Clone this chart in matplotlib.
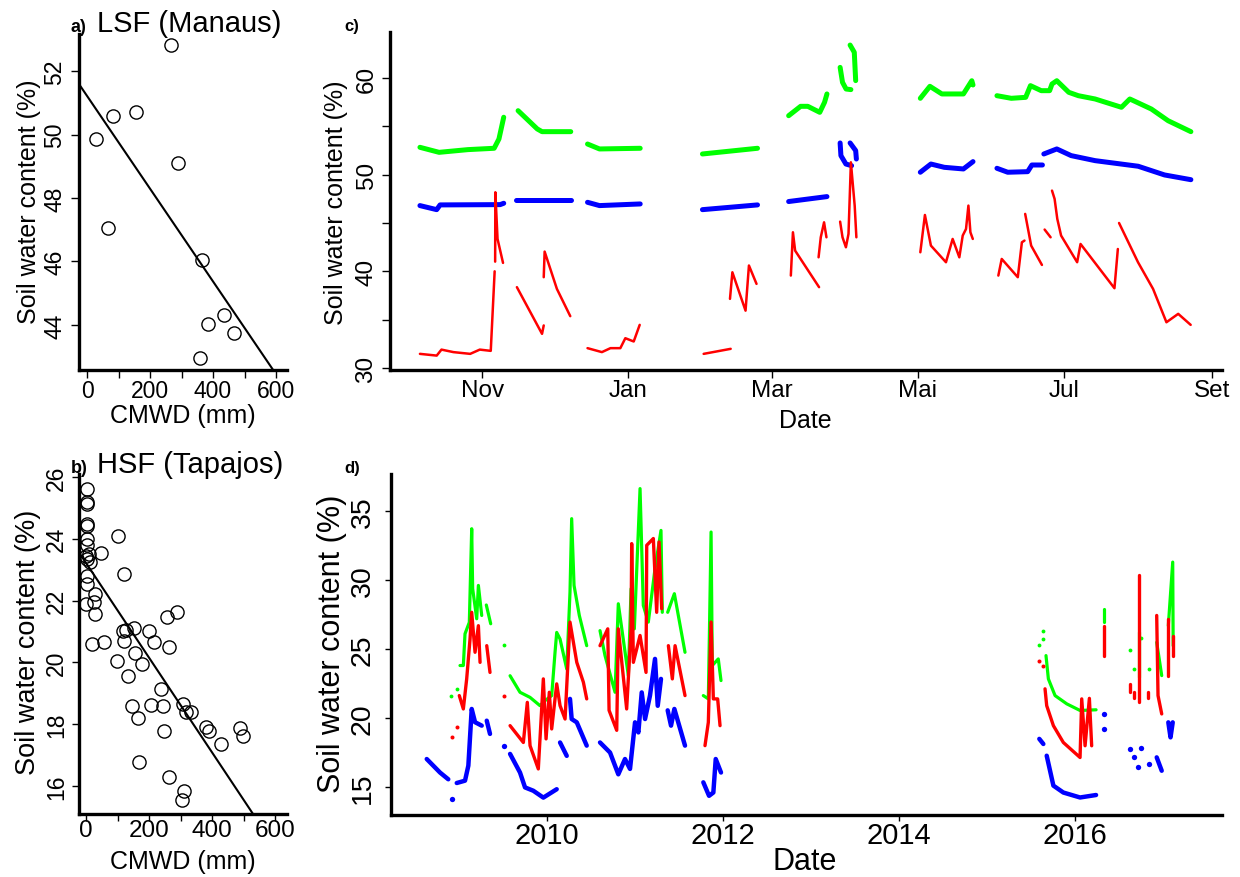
import numpy as np
import pandas as pd
import matplotlib
matplotlib.use("Agg")
import matplotlib.pyplot as plt

plt.rcParams['font.family'] = ['Liberation Sans', 'DejaVu Sans']

W, H = 1240, 878

# a) LSF (Manaus): CMWD (mm) vs soil water content (%)
cmwd_lsf = [267, 83, 156, 28, 290, 66, 366, 436, 383, 468, 358]
swc_lsf = [52.82, 50.58, 50.70, 49.85, 49.10, 47.07, 46.06, 44.30, 44.03, 43.76, 42.95]
fit_lsf = [51.22, -0.01462]  # intercept, slope

# b) HSF (Tapajos)
cmwd_hsf = [4, 4, 4, 4, 4, 4, 4, 0, 11, 4, 12, 4, 4, 0, 28, 26, 28, 18, 57, 46,
            100, 121, 97, 116, 120, 127, 153, 155, 177, 132, 147, 164, 168, 199,
            216, 258, 287, 263, 238, 205, 244, 248, 263, 308, 316, 332, 303, 311,
            379, 390, 428, 488, 499]
swc_hsf = [25.63, 25.20, 25.13, 24.48, 24.40, 24.00, 23.80, 23.45, 23.50, 23.35,
           23.24, 22.80, 22.54, 21.90, 22.20, 21.94, 21.57, 20.60, 20.65, 23.54,
           24.10, 22.86, 20.06, 21.00, 20.70, 21.06, 21.10, 20.30, 19.95, 19.57,
           18.60, 18.19, 16.79, 21.00, 20.67, 21.46, 21.62, 20.49, 19.14, 18.62,
           18.60, 17.79, 16.28, 18.65, 18.38, 18.38, 15.53, 15.85, 17.90, 17.79,
           17.36, 17.87, 17.60]
fit_hsf = [23.22, -0.01536]

# c) Manaus time series, one list per logging period
c_green = [
    [("2007-10-06", 52.83), ("2007-10-14", 52.31), ("2007-10-26", 52.59), ("2007-11-06", 52.73), ("2007-11-08", 53.69), ("2007-11-10", 55.94)],
    [("2007-11-16", 56.62), ("2007-11-24", 54.73), ("2007-11-26", 54.45), ("2007-12-08", 54.45)],
    [("2007-12-15", 53.17), ("2007-12-20", 52.66), ("2008-01-06", 52.73)],
    [("2008-02-01", 52.14), ("2008-02-24", 52.73)],
    [("2008-03-08", 56.10), ("2008-03-13", 57.07), ("2008-03-16", 57.07), ("2008-03-21", 56.45), ("2008-03-23", 57.49), ("2008-03-24", 58.35)],
    [("2008-03-29 12:00", 61.10), ("2008-03-30 12:00", 59.55), ("2008-04-01", 58.86), ("2008-04-03", 58.80)],
    [("2008-04-02 16:00", 63.41), ("2008-04-04 10:00", 62.66), ("2008-04-05", 59.73)],
    [("2008-05-02", 57.90), ("2008-05-06", 59.14), ("2008-05-11", 58.35), ("2008-05-20", 58.35), ("2008-05-23 12:00", 59.72), ("2008-05-24", 59.28)],
    [("2008-06-03", 58.17), ("2008-06-09", 57.90), ("2008-06-15", 58.00), ("2008-06-17", 59.21), ("2008-06-21 12:00", 58.69),
     ("2008-06-25", 58.69), ("2008-06-26", 59.38), ("2008-06-28", 59.72), ("2008-07-03", 58.52), ("2008-07-07", 58.17),
     ("2008-07-14", 57.83), ("2008-07-25", 56.97), ("2008-07-28 12:00", 57.83), ("2008-08-06 12:00", 56.79),
     ("2008-08-13 12:00", 55.58), ("2008-08-23", 54.45)],
]
c_blue = [
    [("2007-10-06", 46.80), ("2007-10-13", 46.38), ("2007-10-14 10:00", 46.87), ("2007-11-08 12:00", 46.90), ("2007-11-10", 47.04)],
    [("2007-11-15", 47.42), ("2007-12-08", 47.42)],
    [("2007-12-15", 47.14), ("2007-12-20", 46.80), ("2008-01-06", 46.97)],
    [("2008-02-01", 46.38), ("2008-02-24", 46.87)],
    [("2008-03-08", 47.22), ("2008-03-24", 47.73)],
    [("2008-03-29 12:00", 53.28), ("2008-03-29 20:00", 51.97), ("2008-03-31 22:00", 51.10), ("2008-04-03 07:00", 50.93)],
    [("2008-04-02 16:00", 53.28), ("2008-04-05", 52.49), ("2008-04-05 07:00", 51.62)],
    [("2008-05-02", 50.25), ("2008-05-06 10:00", 51.10), ("2008-05-12", 50.76), ("2008-05-20", 50.59), ("2008-05-24", 51.35)],
    [("2008-06-03", 50.66), ("2008-06-07 12:00", 50.25), ("2008-06-15 20:00", 50.31), ("2008-06-17 14:00", 51.00), ("2008-06-22", 51.00)],
    [("2008-06-22 14:00", 52.14), ("2008-06-28", 52.66), ("2008-07-04", 51.97), ("2008-07-14", 51.45), ("2008-08-01", 50.87),
     ("2008-08-12", 49.97), ("2008-08-23", 49.48)],
]
c_red = [
    [("2007-10-06", 31.46), ("2007-10-13", 31.28), ("2007-10-15", 31.90), ("2007-10-20", 31.64), ("2007-10-27", 31.46),
     ("2007-10-31", 31.90), ("2007-11-04 14:00", 31.77), ("2007-11-06 05:00", 40.00)],
    [("2007-11-06 10:00", 41.00), ("2007-11-06 12:00", 48.18), ("2007-11-07 10:00", 43.35), ("2007-11-09 17:00", 40.87)],
    [("2007-11-15 12:00", 38.36), ("2007-11-26", 33.53), ("2007-11-26 17:00", 34.40)],
    [("2007-11-26 17:00", 39.39), ("2007-11-27 02:00", 42.04), ("2007-12-02 05:00", 38.18), ("2007-12-07 19:00", 35.36)],
    [("2007-12-15", 32.05), ("2007-12-21", 31.64), ("2007-12-24 14:00", 32.05), ("2007-12-28 17:00", 32.05),
     ("2007-12-30 19:00", 33.08), ("2008-01-03 07:00", 32.74), ("2008-01-05 19:00", 34.46)],
    [("2008-02-01 12:00", 31.46), ("2008-02-12 19:00", 31.98)],
    [("2008-02-12 12:00", 37.15), ("2008-02-13 12:00", 39.90), ("2008-02-19", 35.93), ("2008-02-20 10:00", 40.60), ("2008-02-23 14:00", 38.70)],
    [("2008-03-08 22:00", 39.56), ("2008-03-09 19:00", 44.04), ("2008-03-10 17:00", 42.14), ("2008-03-20 17:00", 38.36)],
    [("2008-03-20 12:00", 41.45), ("2008-03-21 10:00", 43.52), ("2008-03-22 19:00", 45.07), ("2008-03-23 19:00", 43.52)],
    [("2008-03-29 12:00", 45.14), ("2008-03-30 12:00", 43.52), ("2008-03-31 22:00", 42.49), ("2008-04-02", 43.87),
     ("2008-04-03", 51.28), ("2008-04-04 14:00", 46.80), ("2008-04-05 07:00", 43.52)],
    [("2008-05-02", 41.97), ("2008-05-03 22:00", 45.83), ("2008-05-06 10:00", 42.66), ("2008-05-12 17:00", 40.94),
     ("2008-05-15 12:00", 43.35), ("2008-05-18 07:00", 41.45), ("2008-05-19 17:00", 43.70), ("2008-05-21 02:00", 44.38),
     ("2008-05-22 02:00", 46.80), ("2008-05-22 22:00", 44.04), ("2008-05-23 22:00", 43.35)],
    [("2008-06-03 14:00", 39.56), ("2008-06-05", 41.28), ("2008-06-11 17:00", 39.39), ("2008-06-13 10:00", 43.00), ("2008-06-14 12:00", 43.18)],
    [("2008-06-14 19:00", 45.94), ("2008-06-17 07:00", 42.66), ("2008-06-21 19:00", 40.66)],
    [("2008-06-22 22:00", 44.32), ("2008-06-25 10:00", 43.52)],
    [("2008-06-26", 48.35), ("2008-06-27 02:00", 47.49), ("2008-06-28 05:00", 45.42), ("2008-06-29 19:00", 43.70),
     ("2008-07-06 12:00", 40.94), ("2008-07-07 22:00", 42.83), ("2008-07-22 02:00", 38.25), ("2008-07-23 12:00", 42.31)],
    [("2008-07-24", 45.00), ("2008-07-31 22:00", 40.94), ("2008-08-07 05:00", 38.18), ("2008-08-12 19:00", 34.73),
     ("2008-08-17 17:00", 35.60), ("2008-08-22 22:00", 34.46)],
]
c_ticks = ["2007-11-01", "2008-01-01", "2008-03-01", "2008-05-01", "2008-07-01", "2008-09-01"]
c_ticklabels = ["Nov", "Jan", "Mar", "Mai", "Jul", "Set"]

# d) Tapajos time series (decimal years)
d_green = [
    [(2008.906, 21.63)], [(2008.974, 22.12)],
    [(2009.011, 23.81), (2009.049, 23.81), (2009.068, 26.11), (2009.117, 26.94), (2009.144, 33.73), (2009.155, 29.38),
     (2009.201, 27.20), (2009.220, 29.62), (2009.258, 27.44)],
    [(2009.310, 28.20), (2009.360, 26.84)],
    [(2009.511, 25.30)],
    [(2009.580, 23.07), (2009.693, 21.87), (2009.807, 21.50), (2009.920, 20.90), (2009.977, 21.26), (2010.053, 21.63),
     (2010.091, 24.77), (2010.110, 26.21), (2010.148, 25.73), (2010.224, 23.56), (2010.261, 29.13), (2010.280, 34.46),
     (2010.307, 29.62), (2010.367, 27.44), (2010.451, 25.25)],
    [(2010.602, 26.34), (2010.659, 24.53), (2010.773, 21.87), (2010.810, 28.29), (2010.924, 23.08), (2010.955, 29.38),
     (2010.992, 26.47), (2011.057, 36.64), (2011.094, 28.17), (2011.151, 26.96), (2011.227, 30.83), (2011.295, 33.61),
     (2011.310, 27.67)],
    [(2011.371, 27.67), (2011.447, 29.02), (2011.568, 24.77)],
    [(2011.776, 21.63), (2011.833, 21.39), (2011.864, 33.49), (2011.878, 23.81), (2011.946, 24.29), (2011.977, 22.72)],
    [(2015.594, 25.31)], [(2015.633, 26.35)], [(2015.640, 25.75)],
    [(2015.670, 24.53), (2015.697, 22.84), (2015.773, 21.63), (2015.906, 21.03), (2016.057, 20.55), (2016.239, 20.60)],
    [(2016.330, 27.93), (2016.330, 26.98)],
    [(2016.625, 24.90)], [(2016.670, 23.57)], [(2016.731, 26.22), (2016.731, 23.00)], [(2016.750, 25.80)], [(2016.845, 23.57)],
    [(2016.928, 25.49), (2016.985, 23.08)],
    [(2017.060, 26.70), (2017.110, 31.31), (2017.115, 25.25)],
]
d_red = [
    [(2008.917, 18.60)], [(2008.974, 19.32)],
    [(2009.003, 21.63), (2009.049, 20.66), (2009.087, 22.84), (2009.125, 25.73), (2009.144, 27.67), (2009.182, 24.77),
     (2009.220, 26.70), (2009.239, 24.04)],
    [(2009.315, 25.25), (2009.352, 23.31)],
    [(2009.511, 21.63)],
    [(2009.580, 19.45), (2009.731, 18.23), (2009.776, 21.14), (2009.807, 18.00), (2009.901, 16.31), (2009.958, 22.84),
     (2009.989, 18.49), (2010.026, 21.87), (2010.053, 19.21), (2010.110, 22.48), (2010.148, 20.90), (2010.205, 19.93),
     (2010.261, 26.96), (2010.338, 24.04), (2010.413, 22.60), (2010.451, 21.39)],
    [(2010.602, 25.25), (2010.690, 26.47), (2010.705, 20.56), (2010.792, 19.11), (2010.810, 26.47), (2010.905, 20.66),
     (2010.955, 26.47), (2010.962, 32.65), (2010.981, 24.04), (2011.057, 25.99), (2011.125, 23.31), (2011.133, 32.53),
     (2011.208, 33.02), (2011.246, 27.67), (2011.273, 32.77), (2011.303, 27.93)],
    [(2011.379, 25.25), (2011.424, 22.84), (2011.455, 25.25), (2011.568, 21.63)],
    [(2011.795, 18.00), (2011.833, 19.69), (2011.864, 26.96), (2011.890, 21.39), (2011.939, 21.39), (2011.966, 19.45)],
    [(2015.594, 24.16)], [(2015.640, 23.81)],
    [(2015.659, 22.12), (2015.678, 20.90), (2015.754, 19.45), (2015.867, 18.23), (2016.057, 17.14), (2016.076, 21.39),
     (2016.114, 17.99), (2016.163, 21.43), (2016.189, 17.99)],
    [(2016.330, 26.70), (2016.330, 24.53)],
    [(2016.625, 22.48), (2016.625, 21.90)], [(2016.670, 21.87), (2016.670, 21.43)],
    [(2016.731, 30.35), (2016.731, 21.14)], [(2016.830, 21.87), (2016.830, 21.43)],
    [(2016.928, 27.44), (2016.943, 21.63), (2016.985, 20.30)],
    [(2017.060, 27.20), (2017.060, 23.08)], [(2017.110, 25.98), (2017.110, 24.53)],
]
d_blue = [
    [(2008.633, 17.03), (2008.784, 16.05), (2008.878, 15.56)],
    [(2008.917, 14.13)],
    [(2008.974, 15.29), (2009.068, 15.46), (2009.106, 16.55), (2009.144, 20.66), (2009.182, 19.70), (2009.258, 19.45)],
    [(2009.315, 19.81), (2009.352, 18.85)],
    [(2009.511, 18.00)],
    [(2009.580, 17.40), (2009.693, 16.05), (2009.750, 14.97), (2009.844, 14.73), (2009.958, 14.23), (2010.110, 14.84)],
    [(2010.148, 18.23), (2010.224, 17.26)],
    [(2010.261, 21.39), (2010.280, 19.93), (2010.338, 19.69), (2010.451, 18.00)],
    [(2010.602, 18.23), (2010.716, 17.50), (2010.810, 15.92), (2010.886, 17.03), (2010.943, 16.31), (2011.000, 19.69),
     (2011.038, 18.96), (2011.076, 21.86), (2011.114, 19.93), (2011.170, 21.63), (2011.227, 24.29), (2011.258, 20.89),
     (2011.295, 22.84)],
    [(2011.371, 20.56), (2011.409, 19.45), (2011.447, 20.66), (2011.568, 18.00)],
    [(2011.776, 15.34), (2011.841, 14.36), (2011.890, 14.60), (2011.917, 17.03), (2011.977, 16.05)],
    [(2015.594, 18.49), (2015.640, 18.12)],
    [(2015.678, 17.27), (2015.754, 15.10), (2015.867, 14.60), (2016.057, 14.24), (2016.239, 14.42)],
    [(2016.330, 20.30)], [(2016.330, 19.20)],
    [(2016.625, 17.76)], [(2016.670, 17.15)], [(2016.720, 16.42)], [(2016.750, 17.80)], [(2016.845, 16.67)],
    [(2016.928, 17.15), (2016.985, 16.18)],
    [(2017.060, 19.69), (2017.085, 18.60), (2017.110, 19.69)],
]
d_ticks = [2010, 2012, 2014, 2016]


def rect(l, t, r, b):
    # pixel box -> figure fraction
    return [l / W, 1 - b / H, (r - l) / W, (b - t) / H]


def ftext(x, y, s, **kw):
    fig.text(x / W, 1 - y / H, s, **kw)


def style(ax, ysize, xsize, ypad=3, xpad=0.5, tlen=6):
    for s in ['top', 'right']:
        ax.spines[s].set_visible(False)
    for s in ['left', 'bottom']:
        ax.spines[s].set_linewidth(2.4)
        ax.spines[s].set_capstyle('projecting')
    ax.tick_params(direction='out', length=tlen, width=1)
    ax.tick_params(axis='y', labelrotation=90, labelsize=ysize, pad=ypad)
    ax.tick_params(axis='x', labelsize=xsize, pad=xpad)
    for lab in ax.get_yticklabels():
        lab.set_va('center')


def draw(ax, segs, color, lw, conv):
    for seg in segs:
        x = [conv(p[0]) for p in seg]
        y = [p[1] for p in seg]
        if len(seg) == 1:
            ax.plot(x, y, 'o', color=color, ms=lw * 1.2, mew=0)
        else:
            ax.plot(x, y, color=color, lw=lw, solid_capstyle='round', solid_joinstyle='round')


fig = plt.figure(figsize=(W / 100, H / 100), dpi=100)

# ---- a ----
ax = fig.add_axes(rect(79, 35, 287, 371))
ax.plot(cmwd_lsf, swc_lsf, 'o', mfc='none', mec='black', ms=9.5, mew=1)
ax.axline((0, fit_lsf[0]), slope=fit_lsf[1], color='black', lw=1.5)
ax.set_xlim(-25.4, 634.9)
ax.set_ylim(42.58, 53.17)
ax.set_xticks(range(0, 601, 100))
ax.set_xticklabels(['0', '', '200', '', '400', '', '600'])
ax.set_yticks(range(44, 53, 2))
style(ax, 16.5, 16.5)
ftext(78, 32, 'a)', fontsize=13, fontweight='bold', ha='center', va='baseline')
ftext(97, 32, 'LSF (Manaus)', fontsize=21, ha='left', va='baseline')
ftext(29, 202, 'Soil water content (%)', fontsize=18, rotation=90, ha='center', va='center')
ftext(183, 416, 'CMWD (mm)', fontsize=18, ha='center', va='center')

# ---- b ----
ax = fig.add_axes(rect(79, 475, 287, 815))
ax.plot(cmwd_hsf, swc_hsf, 'o', mfc='none', mec='black', ms=9.5, mew=1)
ax.axline((0, fit_hsf[0]), slope=fit_hsf[1], color='black', lw=1.5)
ax.set_xlim(-22.2, 636.9)
ax.set_ylim(15.09, 26.10)
ax.set_xticks(range(0, 601, 100))
ax.set_xticklabels(['0', '', '200', '', '400', '', '600'])
ax.set_yticks(range(16, 27, 2))
style(ax, 16.5, 17.5, xpad=-1.5, tlen=5)
ftext(79, 473, 'b)', fontsize=13, fontweight='bold', ha='center', va='baseline')
ftext(97, 473, 'HSF (Tapajos)', fontsize=21, ha='left', va='baseline')
ftext(28, 642, 'Soil water content (%)', fontsize=19.5, rotation=90, ha='center', va='center')
ftext(183, 862, 'CMWD (mm)', fontsize=18, ha='center', va='center')

# ---- c ----
ax = fig.add_axes(rect(390, 33, 1222, 371))
to_date = pd.Timestamp
draw(ax, c_green, '#00ff00', 3.6, to_date)
draw(ax, c_blue, '#0000ff', 3.6, to_date)
draw(ax, c_red, '#ff0000', 1.8, to_date)
ax.set_xlim(pd.Timestamp("2007-09-23 12:00"), pd.Timestamp("2008-09-05"))
ax.set_ylim(29.79, 64.76)
ax.set_xticks([pd.Timestamp(t) for t in c_ticks])
ax.set_xticklabels(c_ticklabels)
ax.set_yticks(range(30, 61, 5))
ax.set_yticklabels(['30', '', '40', '', '50', '', '60'])
style(ax, 17.5, 17.5)
ftext(352, 31, 'c)', fontsize=12, fontweight='bold', ha='center', va='baseline')
ftext(336, 203, 'Soil water content (%)', fontsize=18, rotation=90, ha='center', va='center')
ftext(805, 421, 'Date', fontsize=18, ha='center', va='center')

# ---- d ----
ax = fig.add_axes(rect(391, 475, 1222, 816))
ident = float
draw(ax, d_blue, '#0000ff', 3.2, ident)
draw(ax, d_green, '#00ff00', 2.3, ident)
draw(ax, d_red, '#ff0000', 2.4, ident)
ax.set_xlim(2008.227, 2017.67)
ax.set_ylim(12.97, 37.7)
ax.set_xticks(d_ticks)
ax.set_yticks(range(15, 36, 5))
style(ax, 20.5, 21, ypad=7, tlen=4)
ftext(352, 473, 'd)', fontsize=12, fontweight='bold', ha='center', va='baseline')
ftext(332, 644, 'Soil water content (%)', fontsize=22, rotation=90, ha='center', va='center')
ftext(805, 862, 'Date', fontsize=22, ha='center', va='center')

fig.savefig('out.png', dpi=100)
